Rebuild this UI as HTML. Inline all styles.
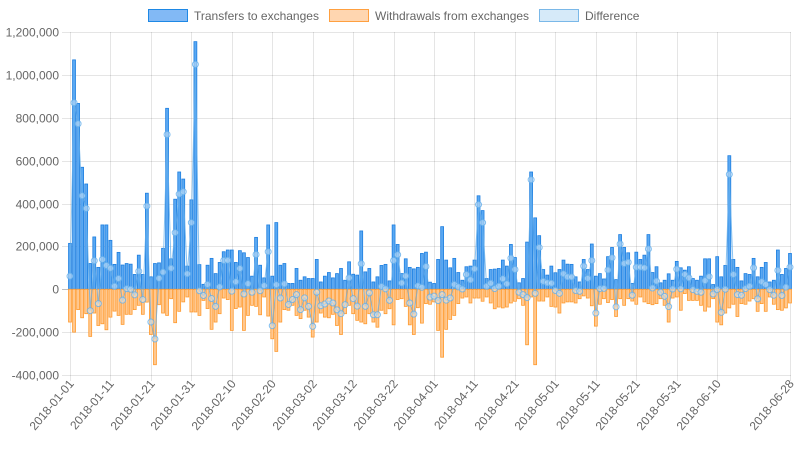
<!DOCTYPE html>
<html><head><meta charset="utf-8">
<style>
html,body{margin:0;padding:0;background:#fff;}
svg{display:block;font-family:"Liberation Sans",sans-serif;}
</style></head>
<body>
<svg id="chart" width="798" height="450" viewBox="0 0 798 450" xmlns="http://www.w3.org/2000/svg">
  <g font-size="12" fill="#666">
    <g>
      <rect x="148.5" y="9.5" width="39" height="12" fill="#82b9f5" stroke="#1e88e5" stroke-width="1"/>
      <text x="194" y="20">Transfers to exchanges</text>
    </g>
    <g>
      <rect x="329.5" y="9.5" width="39" height="12" fill="#ffd6b0" stroke="#ffa040" stroke-width="1"/>
      <text x="375" y="20">Withdrawals from exchanges</text>
    </g>
    <g>
      <rect x="539.5" y="9.5" width="39" height="12" fill="#d6eaf9" stroke="#7ab8e8" stroke-width="1"/>
      <text x="585" y="20">Difference</text>
    </g>
  </g>
  <g id="grid"></g>
  <g id="yaxis"></g>
  <g id="xaxis"></g>
  <g id="bars"></g>
  <g id="line"></g>
</svg>
<script>
const transfers = [214,1070,867,569,491,120,244,102,300,300,228,116,172,113,120,117,69,159,69,448,58,120,123,191,844,142,420,547,514,108,417,
1155,115,23,112,144,73,125,175,183,183,125,180,170,148,61,242,112,53,300,61,311,112,120,27,27,97,42,58,
50,50,139,34,61,78,53,73,97,42,128,70,66,272,81,97,34,58,111,116,39,300,209,73,142,102,95,102,167,173,33,
27,139,292,136,100,144,78,42,105,108,136,436,367,50,92,94,97,136,108,209,148,30,50,220,547,333,250,92,66,108,
77,92,136,117,116,58,34,139,92,211,61,73,48,152,195,45,255,195,170,27,173,139,159,255,78,105,30,42,72,42,130,
100,89,105,50,42,61,142,142,22,152,58,111,623,139,102,39,73,69,144,58,102,125,34,42,183,69,97,167];
const withdrawals = [153,200,95,133,114,220,111,169,161,189,130,102,122,164,117,117,95,75,117,60,211,352,72,111,122,44,156,103,59,36,106,
106,122,52,90,187,153,114,41,48,192,90,83,192,122,75,80,119,36,125,231,290,153,95,98,75,122,137,98,
130,223,153,111,130,133,117,169,211,114,75,114,145,153,161,114,153,177,98,114,91,166,48,44,80,166,211,86,158,67,70,
59,192,317,187,141,122,67,41,36,64,41,41,56,36,64,91,83,87,83,64,56,44,75,259,36,352,55,55,36,80,
83,111,64,59,59,64,44,31,41,77,172,70,44,62,48,127,44,75,44,55,70,36,59,67,72,67,44,75,153,41,36,
98,20,52,52,52,75,102,83,44,153,166,111,87,70,127,67,70,55,44,103,67,103,36,70,95,98,87,64];
const yTicks = [1200000,1000000,800000,600000,400000,200000,0,-200000,-400000];
const xTickLabels = ["2018-01-01","2018-01-11","2018-01-21","2018-01-31","2018-02-10","2018-02-20","2018-03-02","2018-03-12","2018-03-22","2018-04-01","2018-04-11","2018-04-21","2018-05-01","2018-05-11","2018-05-21","2018-05-31","2018-06-10","2018-06-28"];
const xTickIndex = [0,10,20,30,40,50,60,70,80,90,100,110,120,130,140,150,160,178];

const NS = "http://www.w3.org/2000/svg";
const L = 70, R = 790, T = 32, B = 375, YMIN = -400000, YMAX = 1200000;
const n = transfers.length;
function xScale(i){ return L + i * (R - L) / (n - 1); }
function yScale(v){ return B - (v - YMIN) / (YMAX - YMIN) * (B - T); }
function mk(tag, attrs, parent){ const e = document.createElementNS(NS, tag); for (const k in attrs) e.setAttribute(k, attrs[k]); parent.appendChild(e); return e; }

const grid = document.getElementById('grid');
const yaxis = document.getElementById('yaxis');
const xaxis = document.getElementById('xaxis');
yTicks.forEach(v => {
  const y = Math.round(yScale(v)) + 0.5;
  const gl = mk('line', {x1: 62, x2: R + 1, y1: y, y2: y, stroke: v === 0 ? 'rgba(0,0,0,0.25)' : 'rgba(0,0,0,0.1)', 'stroke-width': 1}, grid);
  
  
  const t = mk('text', {x: 59, y: y + 4, 'text-anchor': 'end', 'font-size': 12, fill: '#666'}, yaxis);
  t.textContent = v.toLocaleString('en-US');
  
  
});
xTickIndex.forEach((idx, k) => {
  const x = Math.round(xScale(idx)) + 0.5;
  const gl = mk('line', {x1: x, x2: x, y1: T, y2: B + 6, stroke: 'rgba(0,0,0,0.1)', 'stroke-width': 1}, grid);
  
  
  const t = mk('text', {x: 0, y: 0, 'text-anchor': 'end', 'font-size': 12, fill: '#666', transform: `translate(${x + 4},${B + 9}) rotate(-50)`}, xaxis);
  t.textContent = xTickLabels[k];
  
  
});

const bars = document.getElementById('bars');
const bw = 2.9;
const y0 = yScale(0);
for (let i = 0; i < n; i++) {
  const x = xScale(i) - bw / 2;
  const yt = yScale(transfers[i] * 1000);
  const b1 = mk('rect', {x: x, y: yt, width: bw, height: y0 - yt, fill: '#5aa8f2', stroke: '#1e7fe0', 'stroke-width': 0.8}, bars);
  
  
  const yb = yScale(-withdrawals[i] * 1000);
  const b2 = mk('rect', {x: x, y: y0, width: bw, height: yb - y0, fill: '#ffc890', stroke: '#ff9a2e', 'stroke-width': 0.8}, bars);
  
  
}

const line = document.getElementById('line');
let d = '';
const diffs = transfers.map((t, i) => (t - withdrawals[i]) * 1000);
diffs.forEach((v, i) => { d += (i ? 'L' : 'M') + xScale(i).toFixed(2) + ',' + yScale(v).toFixed(2); });
const p = mk('path', {d: d, fill: 'none', stroke: 'rgba(100,175,235,0.75)', 'stroke-width': 1}, line);


diffs.forEach((v, i) => {
  const c = mk('circle', {cx: xScale(i), cy: yScale(v), r: 3, fill: 'rgba(214,234,249,0.5)', stroke: 'rgba(100,175,235,0.8)', 'stroke-width': 1}, line);
  
  
});
</script>
</body></html>
